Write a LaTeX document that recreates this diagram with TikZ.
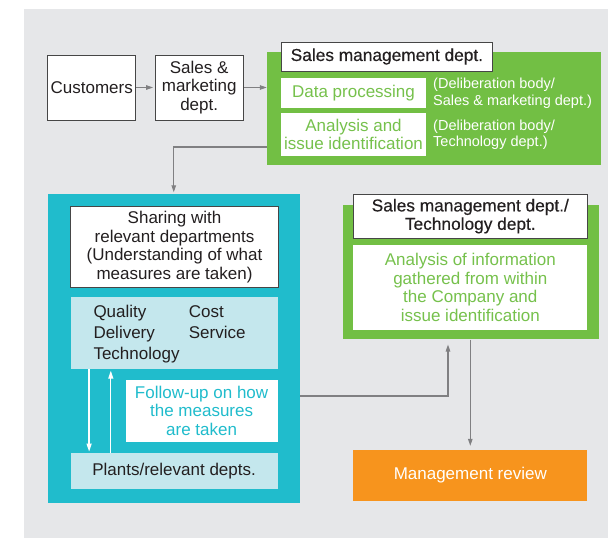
\documentclass[tikz,border=0pt]{standalone}
\usepackage{fontspec}
\setmainfont{Liberation Sans}
\newfontfamily\titlefont[FakeBold=0.35]{Liberation Sans}
\usetikzlibrary{arrows.meta, positioning, calc}
\definecolor{bggray}{RGB}{230,231,233}
\definecolor{panelgreen}{RGB}{114,191,68}
\definecolor{greentext}{RGB}{118,193,76}
\definecolor{panelteal}{RGB}{32,188,204}
\definecolor{paleteal}{RGB}{196,231,237}
\definecolor{revieworange}{RGB}{247,148,29}
\definecolor{arrowgray}{RGB}{128,128,130}
\definecolor{edgegray}{RGB}{70,70,70}
\definecolor{inkblack}{RGB}{35,31,32}

\begin{document}
\begin{tikzpicture}[x=1pt, y=-1pt,
        every node/.style={font=\fontsize{17}{18.6}\selectfont, text=inkblack, align=center, inner sep=0pt},
        boxsize/.style 2 args={minimum width=#1, minimum height=#2},
        plainbox/.style={draw=edgegray, line width=0.8pt, fill=white},
        titlebox/.style={draw=edgegray, line width=0.9pt, fill=white, font=\titlefont\fontsize{17.3}{18.4}\selectfont},
        greenpanel/.style={fill=panelgreen},
        greeninner/.style={fill=white, text=greentext},
        sidenote/.style={align=left, text=white, font=\fontsize{14.5}{16.5}\selectfont},
        tealpanel/.style={fill=panelteal},
        palebox/.style={fill=paleteal},
        flow/.style={draw=arrowgray, line width=1.1pt, -{Triangle[length=7pt, width=4.5pt]}},
        whiteflow/.style={draw=white, line width=1.3pt, -{Triangle[length=8pt, width=5pt]}, shorten >=1.5pt}]
        \useasboundingbox (0,0) rectangle (608,538);
        \fill[bggray] (24,9) rectangle (608,538);

        \node[plainbox, boxsize={88pt}{65pt}] (customers) at (91.7,87.5) {Customers};
        \node[plainbox, boxsize={88.4pt}{65pt}] (salesmkt) at (199.2,87.5) {Sales \&\\marketing\\dept.};

        \node[greenpanel, boxsize={334pt}{113pt}] (salesmgmt) at (434,108.5) {};
        \node[titlebox, boxsize={211.7pt}{29pt}] (salesmgmttitle) at (386.9,56.5) {Sales management dept.};
        \node[greeninner, boxsize={145pt}{30pt}] (dataproc) at (353.5,93) {Data processing};
        \node[greeninner, boxsize={145pt}{43pt}] (analysis) at (353.5,134.5) {Analysis and\\issue identification};
        \node[sidenote, anchor=west] (bodysales) at (433,93) {(Deliberation body/\\Sales \& marketing dept.)};
        \node[sidenote, anchor=west] (bodytech) at (433,134.5) {(Deliberation body/\\Technology dept.)};

        \node[tealpanel, boxsize={252.5pt}{309pt}] (sharepanel) at (173.75,348.5) {};
        \node[plainbox, boxsize={207.6pt}{81pt}] (sharing) at (174.5,247.2) {Sharing with\\relevant departments\\(Understanding of what\\measures are taken)};
        \node[palebox, boxsize={206.8pt}{71.7pt}] (measures) at (174.1,333.15) {};
        \node[anchor=west, align=left, font=\fontsize{17}{21.2}\selectfont] (measurelist) at (93.3,334)
            {\begin{tabular}{@{}p{95.4pt}@{}l@{}}Quality & Cost\\Delivery & Service\\Technology & \end{tabular}};
        \node[fill=white, text=panelteal, boxsize={151.8pt}{61.7pt}] (followup) at (201.6,410.85) {Follow-up on how\\the measures\\are taken};
        \node[palebox, boxsize={206.8pt}{35.2pt}] (plants) at (174.1,470.9) {Plants/relevant depts.};

        \node[greenpanel, boxsize={256pt}{134.3pt}] (techpanel) at (470.7,272.15) {};
        \node[titlebox, boxsize={234pt}{44.3pt}] (techtitle) at (470.3,216.15) {Sales management dept./\\Technology dept.};
        \node[greeninner, boxsize={234pt}{85pt}] (gathered) at (470.3,287.5) {Analysis of information\\gathered from within\\the Company and\\issue identification};

        \node[fill=revieworange, text=white, boxsize={234pt}{50.7pt}] (review) at (470.3,475.35) {Management review};

        \draw[flow, shorten >=1.5pt] (customers) -- (salesmkt);
        \draw[flow] (salesmkt) -- (salesmkt -| salesmgmt.west);
        \draw[flow, shorten >=1.5pt] ([yshift=-38.5pt]salesmgmt.west) -| (sharepanel.north);
        \draw[whiteflow] ([xshift=18.6pt]measures.south west) -- ([xshift=18.6pt]measures.south west |- plants.north);
        \draw[whiteflow] ([xshift=40.3pt]plants.north west) -- ([xshift=40.3pt]plants.north west |- measures.south);
        \draw[flow, shorten >=5pt] ([yshift=-47.5pt]sharepanel.east) -| ([xshift=-22.7pt]techpanel.south);
        \draw[flow, shorten >=4pt] (techpanel.south -| review.north) -- (review.north);
    \end{tikzpicture}
\end{document}
